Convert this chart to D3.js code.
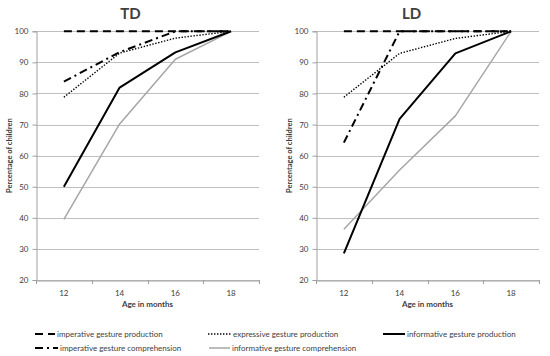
<!DOCTYPE html>
<html><head><meta charset="utf-8">
<script src="https://cdn.jsdelivr.net/npm/d3@7"></script>
<style>body{margin:0;background:#fff}svg{display:block}text{font-family:Lato,"Open Sans",sans-serif;fill:#404040}</style>
</head><body><svg id="c" width="550" height="356"></svg>
<script>
const ages = ["12","14","16","18"];
const yTicks = [20,30,40,50,60,70,80,90,100];
const panels = ["TD","LD"];
const seriesNames = ["imperative gesture production","expressive gesture production","informative gesture production","imperative gesture comprehension","informative gesture comprehension"];
const tdImpProd = [100,100,100,100];
const tdExpProd = [78.8,93,97.8,100];
const tdInfProd = [50,81.9,93.2,100];
const tdImpComp = [83.8,93.3,100,100];
const tdInfComp = [39.5,70.2,91,100];
const ldImpProd = [100,100,100,100];
const ldExpProd = [78.8,92.9,97.7,100];
const ldInfProd = [28.6,71.8,92.9,100];
const ldImpComp = [64.2,100,100,100];
const ldInfComp = [36.3,55.4,72.8,100];

const styles = {
  "imperative gesture production": {c:"#000", w:2, d:"8,5"},
  "expressive gesture production": {c:"#000", w:1.4, d:"1.4,1.6"},
  "informative gesture production": {c:"#000", w:2, d:null},
  "imperative gesture comprehension": {c:"#000", w:2, d:"8,4,2,4"},
  "informative gesture comprehension": {c:"#a6a6a6", w:1.5, d:null}
};
const data = {
  TD: {"imperative gesture production":tdImpProd,"expressive gesture production":tdExpProd,"informative gesture production":tdInfProd,"imperative gesture comprehension":tdImpComp,"informative gesture comprehension":tdInfComp},
  LD: {"imperative gesture production":ldImpProd,"expressive gesture production":ldExpProd,"informative gesture production":ldInfProd,"imperative gesture comprehension":ldImpComp,"informative gesture comprehension":ldInfComp}
};
const drawOrder = ["informative gesture comprehension","informative gesture production","expressive gesture production","imperative gesture comprehension","imperative gesture production"];

const svg = d3.select("#c");
const layout = [{x0:36,x1:259,lab:9},{x0:316,x1:539,lab:289}];
const y = d3.scaleLinear().domain([20,100]).range([280,31.3]);

panels.forEach((p,i)=>{
  const L = layout[i];
  const x = d3.scaleBand().domain(ages).range([L.x0,L.x1]);
  const g = svg.append("g");
  g.selectAll("line.grid").data(yTicks).join("line")
    .attr("x1",L.x0).attr("x2",L.x1).attr("y1",d=>Math.round(y(d))+0.5).attr("y2",d=>Math.round(y(d))+0.5)
    .attr("stroke","#bfbfbf").attr("stroke-width",1);
  const ya = g.append("g").attr("transform",`translate(${L.x0+0.5},0)`)
    .call(d3.axisLeft(y).tickValues(yTicks).tickSize(4).tickPadding(4));
  ya.select(".domain").attr("stroke","#a0a0a0");
  ya.selectAll(".tick line").attr("stroke","#a0a0a0");
  ya.selectAll("text").style("font-size","8px").attr("fill","#404040");
  const xa = g.append("g").attr("transform",`translate(0,${Math.round(y(20))+0.5})`)
    .call(d3.axisBottom(x).tickSize(0).tickPadding(10));
  xa.select(".domain").attr("stroke","#a0a0a0");
  xa.selectAll("text").style("font-size","8px").attr("fill","#404040");
  const bounds = [L.x0, ...ages.map(a=>x(a)+x.bandwidth())];
  g.selectAll("line.xt").data(bounds).join("line")
    .attr("x1",d=>Math.round(d)+0.5).attr("x2",d=>Math.round(d)+0.5)
    .attr("y1",Math.round(y(20))).attr("y2",Math.round(y(20))+4)
    .attr("stroke","#a0a0a0");
  svg.append("text").attr("x",(L.x0+L.x1)/2+(i?-16:-17)).attr("y",19).attr("text-anchor","middle")
    .style("font-size","15px").style("font-weight","bold").attr("fill","#000").text(p);
  svg.append("text").attr("x",(L.x0+L.x1)/2).attr("y",307).attr("text-anchor","middle")
    .style("font-size","8px").style("font-weight","bold").attr("fill","#000").text("Age in months");
  svg.append("text").attr("transform",`translate(${L.lab},${(y(20)+y(100))/2}) rotate(-90)`)
    .attr("text-anchor","middle").attr("dy","0.35em")
    .style("font-size","7.5px").style("font-weight","bold").attr("fill","#000").text("Percentage of children");
  const line = d3.line().x((d,k)=>x(ages[k])+x.bandwidth()/2).y(d=>y(d));
  drawOrder.forEach(s=>{
    const st = styles[s];
    g.append("path").datum(data[p][s]).attr("d",line).attr("fill","none")
      .attr("stroke",st.c).attr("stroke-width",st.w).attr("stroke-dasharray",st.d)
      .attr("stroke-linejoin","round");
  });
});

const legPos = [
  {s:"imperative gesture production", x:35, y:334, w:20},
  {s:"expressive gesture production", x:208, y:334, w:23},
  {s:"informative gesture production", x:383, y:334, w:22},
  {s:"imperative gesture comprehension", x:35, y:348, w:23},
  {s:"informative gesture comprehension", x:209, y:348, w:21}
];
const lg = svg.append("g");
legPos.forEach(l=>{
  const st = styles[l.s];
  lg.append("line").attr("x1",l.x).attr("x2",l.x+l.w).attr("y1",l.y).attr("y2",l.y)
    .attr("stroke",st.c).attr("stroke-width",st.w).attr("stroke-dasharray",st.d);
  lg.append("text").attr("x",l.x+l.w+2).attr("y",l.y).attr("dy","0.35em")
    .style("font-size","8px").attr("fill","#404040").text(l.s);
});
</script></body></html>
